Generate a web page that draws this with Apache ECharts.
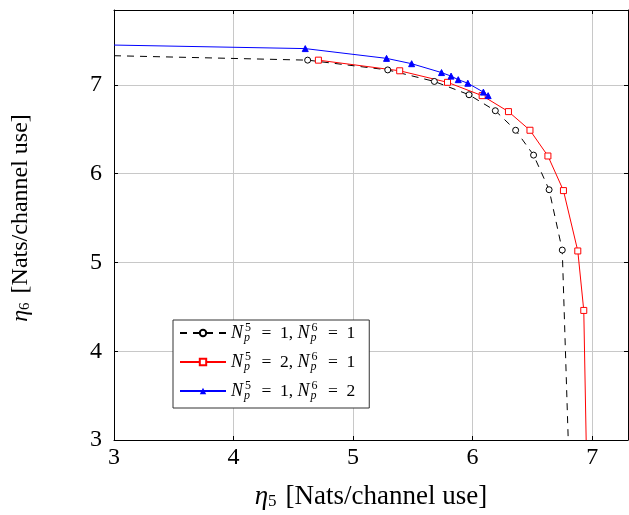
<!DOCTYPE html>
<html>
<head>
<meta charset="utf-8">
<script src="https://cdn.jsdelivr.net/npm/echarts@6/dist/echarts.min.js"></script>
<style>html,body{margin:0;padding:0;background:#fff}#c{width:629px;height:515px}</style>
</head>
<body>
<div id="c"></div>
<script>
// Data
const blackX = [3.0, 4.62, 5.29, 5.68, 5.97, 6.19, 6.36, 6.51, 6.64, 6.75, 6.80];
const blackY = [7.33, 7.28, 7.17, 7.04, 6.89, 6.71, 6.49, 6.21, 5.82, 5.14, 3.0];
const redX = [4.71, 5.39, 5.79, 6.08, 6.30, 6.48, 6.63, 6.76, 6.88, 6.93, 6.95];
const redY = [7.28, 7.16, 7.03, 6.88, 6.70, 6.49, 6.20, 5.81, 5.13, 4.46, 3.0];
const blueX = [3.0, 4.60, 5.28, 5.49, 5.74, 5.82, 5.88, 5.96, 6.09, 6.13];
const blueY = [7.45, 7.41, 7.30, 7.24, 7.14, 7.10, 7.06, 7.02, 6.92, 6.88];
const seriesNames = ['s1', 's2', 's3'];
const legendParts = [['5', '1', '6', '1'], ['5', '2', '6', '1'], ['5', '1', '6', '2']];
const xTicks = [3, 4, 5, 6, 7];
const yTicks = [3, 4, 5, 6, 7];

const serif = "'Liberation Serif', 'DejaVu Serif', serif";

function pts(xs, ys, noSym) {
  return xs.map((x, i) => {
    const d = { value: [x, ys[i]] };
    if (noSym.includes(i)) d.symbol = 'none';
    return d;
  });
}

const chart = echarts.init(document.getElementById('c'));
const axisCommon = {
  axisLine: { show: true, lineStyle: { color: '#000', width: 1 } },
  axisTick: { show: true, inside: true, length: 4, lineStyle: { color: '#000' } },
  splitLine: { show: true, lineStyle: { color: '#c8c8c8', width: 1 } }
};
function nameRich(size) {
  return {
    i: { fontFamily: serif, fontStyle: 'italic', fontSize: size, color: '#000' },
    s: { fontFamily: serif, fontSize: Math.round(size * 0.64), verticalAlign: 'bottom', color: '#000', padding: [10, 9, 0, 0] },
    t: { fontFamily: serif, fontSize: size, color: '#000' }
  };
}
chart.setOption({
  animation: false,
  grid: { left: 114, top: 10, right: 1, bottom: 75, show: false },
  legend: {
    left: 173, top: 320, orient: 'vertical',
    backgroundColor: '#fff', borderColor: '#333', borderWidth: 1,
    padding: [2, 14, 6, 6], itemGap: 7, itemWidth: 46, itemHeight: 8,
    data: seriesNames,
    formatter: function (name) {
      const p = legendParts[seriesNames.indexOf(name)];
      return '{i|N}{sb|p}{sp|' + p[0] + '}{t| =  ' + p[1] + ', }{i|N}{sb|p}{sp|' + p[2] + '}{t| =  ' + p[3] + '}';
    },
    textStyle: {
      fontFamily: serif, fontSize: 17, color: '#000', lineHeight: 22,
      rich: {
        i: { fontFamily: serif, fontStyle: 'italic', fontSize: 18, color: '#000' },
        sb: { fontFamily: serif, fontStyle: 'italic', fontSize: 12, width: 1, verticalAlign: 'bottom', color: '#000', padding: [0, 0, 0, 1] },
        sp: { fontFamily: serif, fontSize: 12, verticalAlign: 'top', color: '#000', padding: [0, 6, 0, 0] },
        t: { fontFamily: serif, fontSize: 17.5, color: '#000' }
      }
    }
  },
  xAxis: [
    Object.assign({
      type: 'value', min: 3, max: 7.3, interval: 1, position: 'bottom',
      name: '{i|η}{s|5}{t|[Nats/channel use]}', nameLocation: 'middle', nameGap: 43,
      nameTextStyle: { fontFamily: serif, fontSize: 27, color: '#000', rich: nameRich(27) },
      axisLabel: { fontFamily: serif, fontSize: 24, color: '#000', margin: 6, showMaxLabel: false,
        formatter: v => xTicks.includes(v) ? String(v) : '' }
    }, axisCommon),
    Object.assign({}, axisCommon, {
      type: 'value', min: 3, max: 7.3, interval: 1, position: 'top',
      axisLabel: { show: false }, splitLine: { show: false }
    })
  ],
  yAxis: [
    Object.assign({
      type: 'value', min: 3, max: 7.845, interval: 1, position: 'left',
      name: '{i|η}{s|6}{t|[Nats/channel use]}', nameLocation: 'middle', nameGap: 81, nameRotate: 90,
      nameTextStyle: { fontFamily: serif, fontSize: 24, color: '#000', rich: nameRich(24), padding: [0, 0, 0, 14] },
      axisLabel: { fontFamily: serif, fontSize: 24, color: '#000', margin: 12, showMaxLabel: false,
        formatter: v => yTicks.includes(v) ? String(v) : '' }
    }, axisCommon),
    Object.assign({}, axisCommon, {
      type: 'value', min: 3, max: 7.845, interval: 1, position: 'right',
      axisLabel: { show: false }, splitLine: { show: false }
    })
  ],
  series: [
    {
      name: seriesNames[0], type: 'line', data: pts(blackX, blackY, [0, blackX.length - 1]),
      symbol: 'circle', symbolSize: 6, showAllSymbol: true,
      lineStyle: { color: '#000', width: 1, type: [7, 6] },
      itemStyle: { color: '#fff', borderColor: '#000', borderWidth: 1 }, color: '#000'
    },
    {
      name: seriesNames[1], type: 'line', data: pts(redX, redY, [redX.length - 1]),
      symbol: 'rect', symbolSize: 6, showAllSymbol: true,
      lineStyle: { color: '#ff0000', width: 1 },
      itemStyle: { color: '#fff', borderColor: '#ff0000', borderWidth: 1 }, color: '#ff0000'
    },
    {
      name: seriesNames[2], type: 'line', data: pts(blueX, blueY, [0]),
      symbol: 'triangle', symbolSize: 6, showAllSymbol: true,
      lineStyle: { color: '#0000ff', width: 1 },
      itemStyle: { color: '#0000ff', borderColor: '#0000ff' }, color: '#0000ff'
    }
  ]
});
</script>
</body>
</html>
